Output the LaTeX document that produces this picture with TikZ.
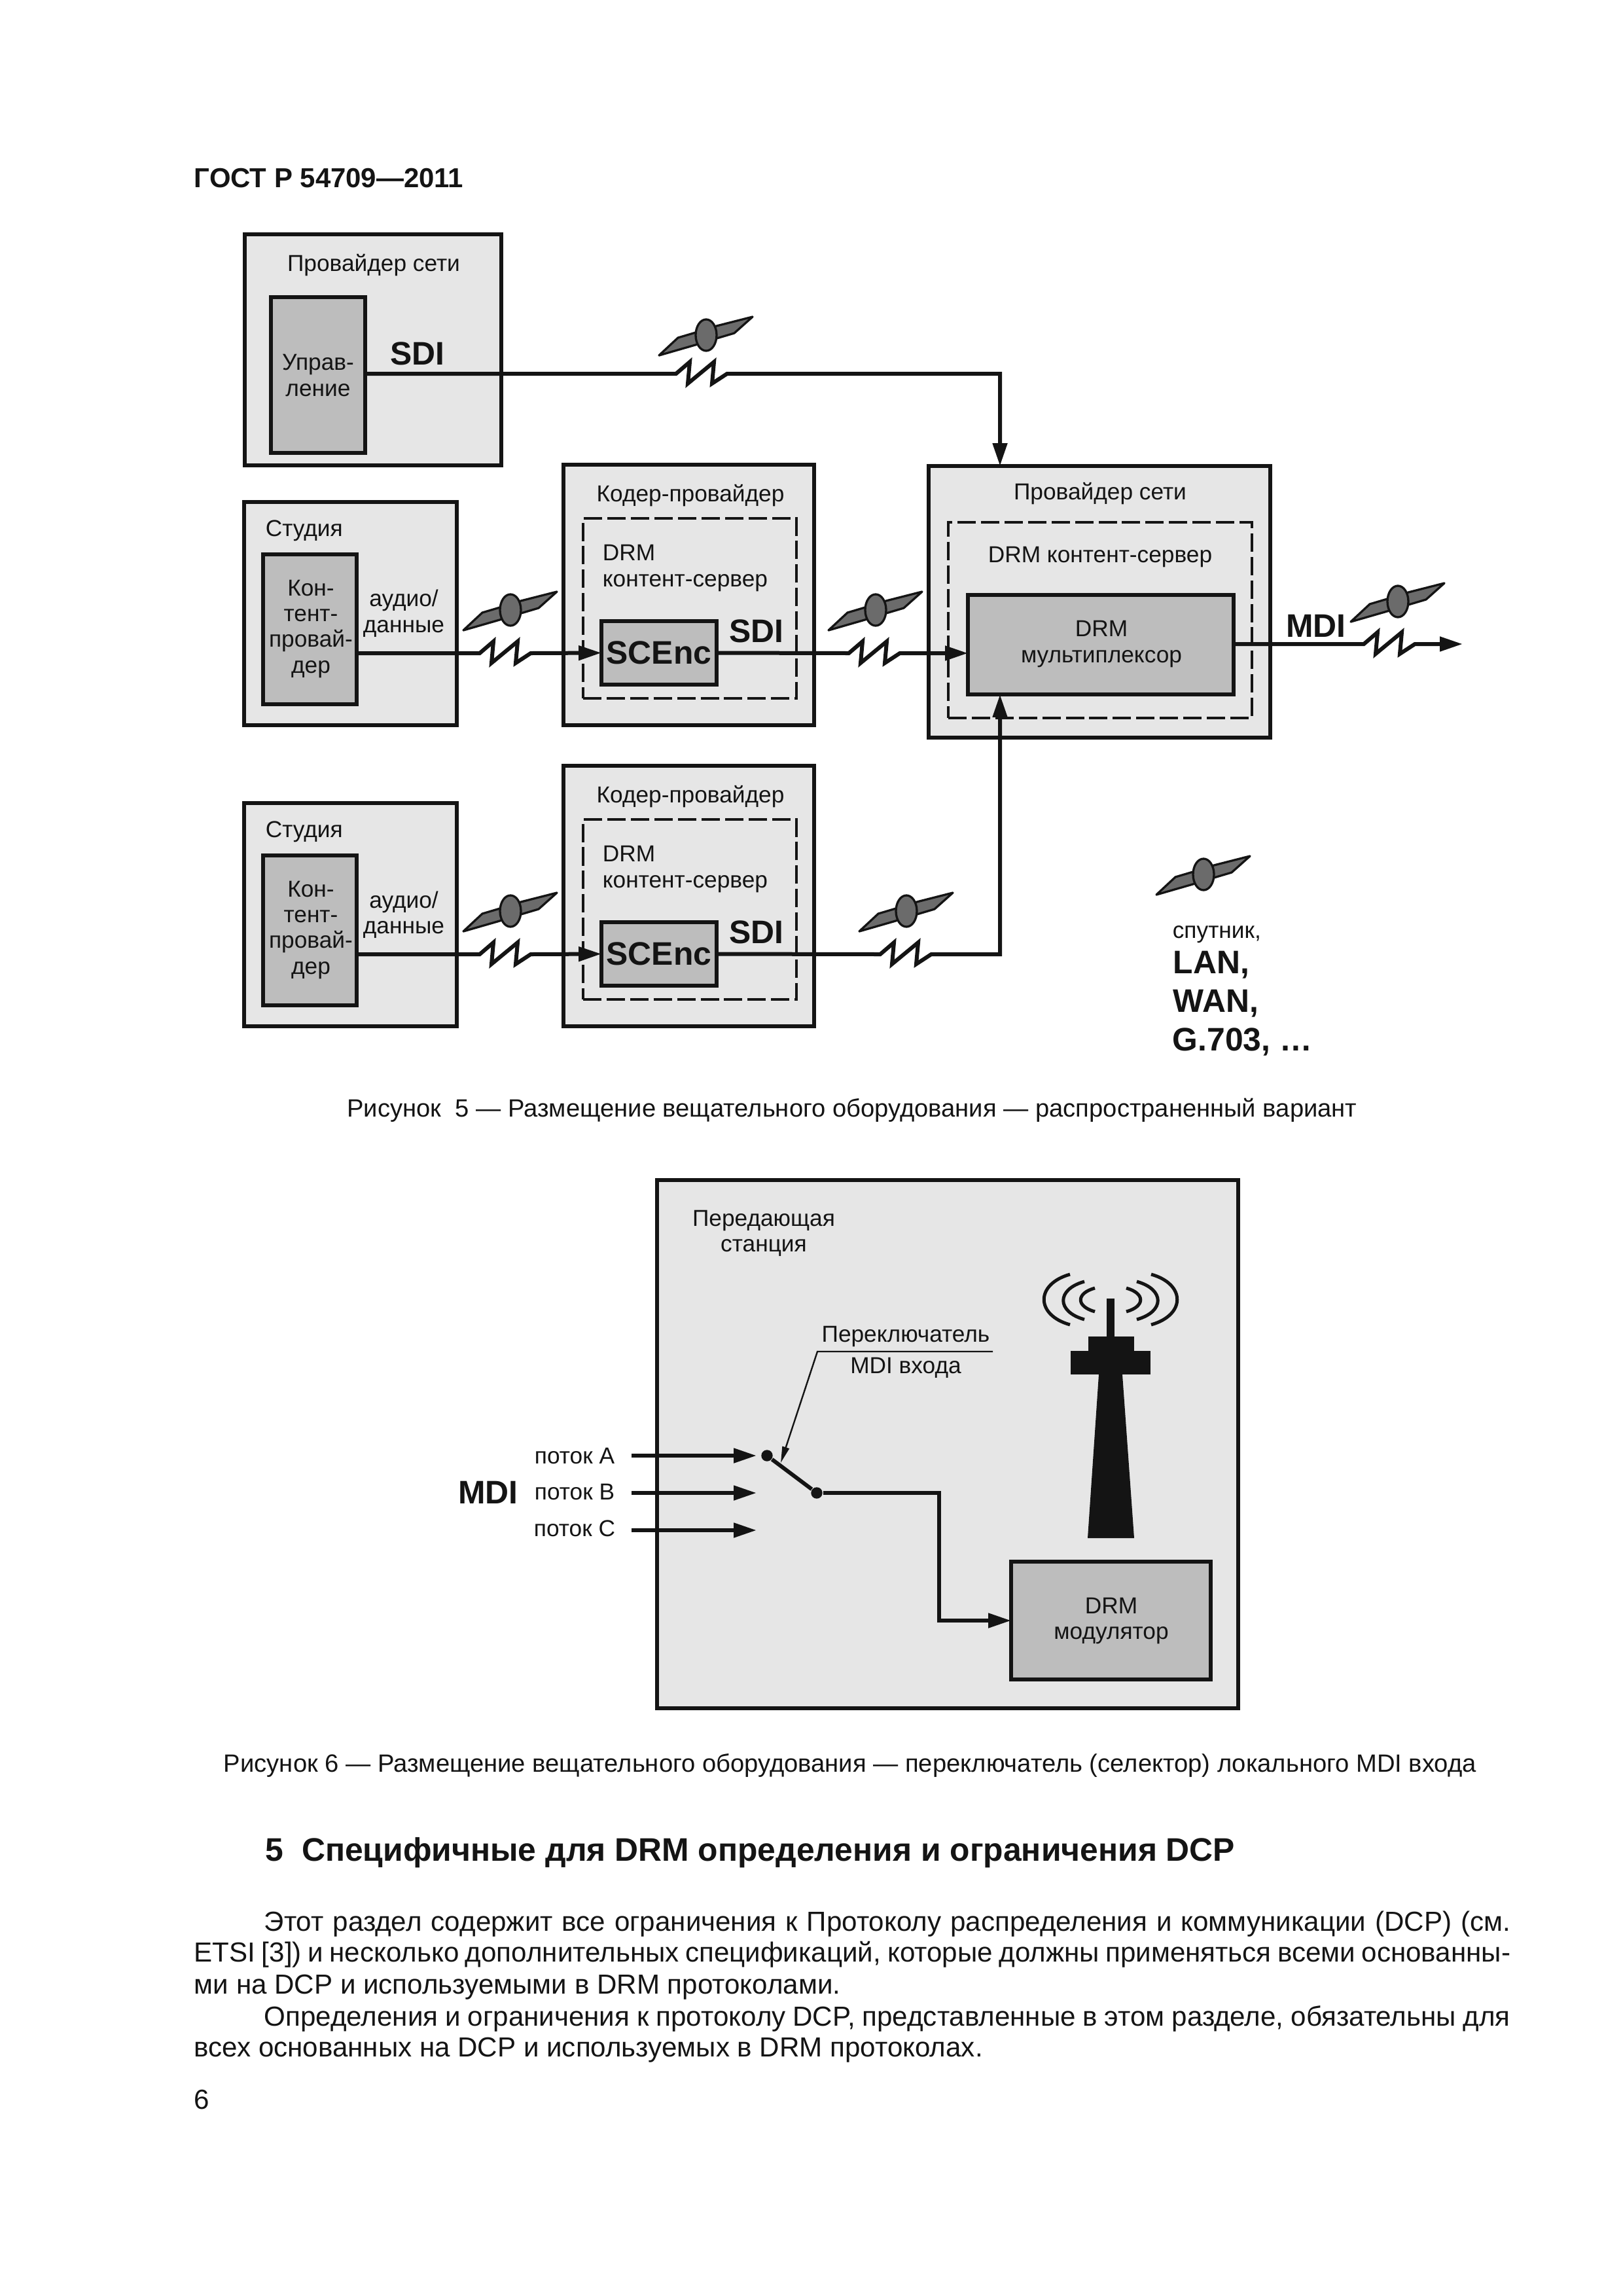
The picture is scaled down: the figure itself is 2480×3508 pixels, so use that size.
\documentclass[tikz,border=0pt]{standalone}
\usepackage{fontspec}
\setmainfont{Liberation Sans}
\usetikzlibrary{arrows.meta,calc}
\definecolor{ink}{HTML}{141414}
\definecolor{lightbox}{HTML}{E6E6E6}
\definecolor{midbox}{HTML}{BDBDBD}
\definecolor{satfill}{HTML}{6B6B6B}
\def\px{0.2409pt}
% args: name, y1, x1, x2, y2, style
\newcommand{\bx}[6]{\node[#6,minimum width={(#4-#3)*\px},minimum height={(#5-#2)*\px}] (#1) at ({(#3+#4)/2},{(#2+#5)/2}) {};}
\newcommand{\sat}[2]{\begin{scope}[shift={(#1,#2)}]
 \filldraw[satline] (-72,31) -- (-43,4) -- (-16,-4) -- (16,-14) -- (71,-28) -- (43,-3) -- (16,5) -- (-13,14) -- cycle;
 \filldraw[satline] (0,0) ellipse [x radius=16,y radius=24];
\end{scope}}
\tikzset{
 outerb/.style={draw=ink,fill=lightbox,line width=6*\px,inner sep=0,outer sep=0},
 innerb/.style={draw=ink,fill=midbox,line width=6*\px,inner sep=0,outer sep=0},
 dashb/.style={draw=ink,line width=3.2*\px,dash pattern=on 6.75pt off 1.9pt,inner sep=0,outer sep=0},
 satline/.style={draw=ink,fill=satfill,line width=3.3*\px,line join=round},
 wire/.style={draw=ink,line width=6*\px,miter limit=20},
 tip/.style={-{Triangle[length=8.4pt,width=5.2pt]}},
 zz/.style={insert path={-- ++(21,-18) -- ++(-3,33) -- ++(40,-33) -- ++(-3,33) -- ++(23,-15)}},
 lab/.style={text=ink,font=\fontsize{8.5}{9.4}\selectfont,align=center,inner sep=0,anchor=base},
 labl/.style={lab,align=left,anchor=base west},
 big/.style={text=ink,font=\fontsize{12}{13}\bfseries\selectfont,inner sep=0,anchor=base},
 bodytext/.style={text=ink,anchor=base west,inner sep=0,font=\fontsize{10.15}{12}\selectfont},
 capt/.style={text=ink,anchor=base,inner sep=0,font=\fontsize{9.2}{12}\selectfont},
}
\begin{document}
\begin{tikzpicture}[x=0.2409pt,y=-0.2409pt]
\useasboundingbox (0,0) rectangle (2480,3508);
\fill[white] (0,0) rectangle (2480,3508);
% page text
\node[big,anchor=base west,font=\fontsize{10.1}{13}\bfseries\selectfont] (hdr) at (296,286) {ГОСТ Р 54709—2011};
% Figure 5 boxes
\bx{provA}{358}{374}{766}{711}{outerb}
\bx{upr}{454}{414}{558}{692}{innerb}
\bx{stud1}{767}{373}{698}{1108}{outerb}
\bx{cont1}{847}{402}{545}{1076}{innerb}
\bx{cod1}{710}{861}{1244}{1108}{outerb}
\bx{dash1}{792}{891}{1217}{1067}{dashb}
\bx{enc1}{949}{919}{1095}{1046}{innerb}
\bx{stud2}{1227}{373}{698}{1568}{outerb}
\bx{cont2}{1307}{402}{545}{1536}{innerb}
\bx{cod2}{1170}{861}{1244}{1568}{outerb}
\bx{dash2}{1252}{891}{1217}{1527}{dashb}
\bx{enc2}{1409}{919}{1095}{1506}{innerb}
\bx{provB}{712}{1419}{1941}{1127}{outerb}
\bx{dash3}{798}{1449}{1913}{1097}{dashb}
\bx{mux}{909}{1479}{1885}{1061}{innerb}
% labels
\node[lab] (t1) at (571,414) {Провайдер сети};
\node[lab] (t2) at (486,605) {Управ-\\ление};
\node[big] (t3) at (638,557) {SDI};
\node[labl] (t4) at (405,819) {Студия};
\node[lab] (t5) at (475,1028) {Кон-\\тент-\\провай-\\дер};
\node[lab] (t6) at (617,966) {аудио/\\данные};
\node[lab] (t7) at (1055,766) {Кодер-провайдер};
\node[labl] (t8) at (920,896) {DRM\\контент-сервер};
\node[big] (t9) at (1156,981) {SDI};
\node[big,anchor=center] (t10) at (enc1) {SCEnc};
\node[labl] (t11) at (405,1279) {Студия};
\node[lab] (t12) at (475,1488) {Кон-\\тент-\\провай-\\дер};
\node[lab] (t13) at (617,1426) {аудио/\\данные};
\node[lab] (t14) at (1055,1226) {Кодер-провайдер};
\node[labl] (t15) at (920,1356) {DRM\\контент-сервер};
\node[big] (t16) at (1156,1441) {SDI};
\node[big,anchor=center] (t17) at (enc2) {SCEnc};
\node[lab] (t18) at (1681,763) {Провайдер сети};
\node[lab] (t19) at (1681,859) {DRM контент-сервер};
\node[lab] (t20) at (1683,1012) {DRM\\мультиплексор};
\node[big] (t21) at (2011,973) {MDI};
% connectors
\coordinate (z1) at (1033,571);
\coordinate (jTop) at (1528,712);
\draw[wire,tip] (upr.east |- z1) -- (z1) [zz] -| (jTop);
\coordinate (z2) at (733,998);
\draw[wire,tip] (cont1.east |- z2) -- (z2) [zz] -- (enc1.west);
\coordinate (z3) at (1297,998);
\draw[wire,tip] (enc1.east) -- (z3) [zz] -- (mux.west |- z3);
\coordinate (z4) at (2084,984);
\coordinate (mdiEnd) at (2235,984);
\draw[wire,tip] (mux.east |- z4) -- (z4) [zz] -- (mdiEnd);
\coordinate (z5) at (733,1458);
\draw[wire,tip] (cont2.east |- z5) -- (z5) [zz] -- (enc2.west);
\coordinate (z6) at (1345,1458);
\coordinate (jBot) at (1528,1061);
\draw[wire,tip] (enc2.east) -- (z6) [zz] -| (jBot);
% satellites
\sat{1079}{512}
\sat{780}{932}
\sat{1338}{932}
\sat{2136}{919}
\sat{780}{1392}
\sat{1385}{1392}
\sat{1839}{1336}
% legend
\node[labl] (l1) at (1791,1433) {спутник,};
\node[big,anchor=base west] (l2) at (1792,1487) {LAN,};
\node[big,anchor=base west] (l3) at (1792,1546) {WAN,};
\node[big,anchor=base west] (l4) at (1791,1605) {G.703, …};
\node[capt] (c5) at (1302,1706) {Рисунок\ \ 5 — Размещение вещательного оборудования — распространенный вариант};
% Figure 6
\bx{stn}{1803}{1004}{1892}{2610}{outerb}
\bx{mod}{2386}{1545}{1850}{2566}{innerb}
\node[lab] (s1) at (1167,1912) {Передающая\\станция};
\node[lab] (s2) at (1698,2504) {DRM\\модулятор};
% tower
\fill[ink] (1691,1984) rectangle (1703,2042);
\fill[ink] (1663,2042) rectangle (1733,2064);
\fill[ink] (1636,2064) rectangle (1758,2100);
\fill[ink] (1679,2100) -- (1715,2100) -- (1733,2350) -- (1662,2350) -- cycle;
\draw[ink,line width=5*\px] (1635,1947) .. controls (1582,1962) and (1582,2009) .. (1635,2024);
\draw[ink,line width=5*\px] (1657,1958) .. controls (1614,1970) and (1614,2004) .. (1657,2016);
\draw[ink,line width=5*\px] (1673,1968) .. controls (1644,1976) and (1644,1996) .. (1673,2004);
\draw[ink,line width=5*\px] (1759,1947) .. controls (1812,1962) and (1812,2009) .. (1759,2024);
\draw[ink,line width=5*\px] (1737,1958) .. controls (1780,1970) and (1780,2004) .. (1737,2016);
\draw[ink,line width=5*\px] (1721,1968) .. controls (1750,1976) and (1750,1996) .. (1721,2004);
% switch
\node[fill=ink,circle,inner sep=0,minimum size=4.2pt] (dotA) at (1172,2224) {};
\node[fill=ink,circle,inner sep=0,minimum size=4.2pt] (dotR) at (1248,2281) {};
\draw[wire] (dotA) -- (dotR);
\coordinate (bend) at (1435,2476);
\draw[wire,tip] (dotR) -| (bend) -- (mod.west |- bend);
\node[lab] (a1) at (878,2236) {поток А};
\node[lab] (a2) at (878,2291) {поток В};
\node[lab] (a3) at (878,2347) {поток С};
\coordinate (a1e) at (1156,2224);
\coordinate (a2e) at (1156,2281);
\coordinate (a3e) at (1156,2338);
\coordinate (a1s) at (965,2224);
\coordinate (a2s) at (965,2281);
\coordinate (a3s) at (965,2338);
\draw[wire,tip] (a1s) -- (a1e);
\draw[wire,tip] (a2s) -- (a2e);
\draw[wire,tip] (a3s) -- (a3e);
\node[big] (m6) at (746,2297) {MDI};
\node[lab] (sw1) at (1384,2050) {Переключатель};
\node[lab] (sw2) at (1384,2098) {MDI входа};
\coordinate (lf1) at (1517,2065);
\coordinate (lf2) at (1249,2065);
\coordinate (lf3) at (1193,2235);
\draw[draw=ink,line width=2.4*\px,-{Triangle[length=6pt,width=2.6pt]}] (lf1) -- (lf2) -- (lf3);
\node[capt] (c6) at (1299,2707) {Рисунок 6 — Размещение вещательного оборудования — переключатель (селектор) локального MDI входа};
% section text
\node[text=ink,anchor=base west,inner sep=0,font=\fontsize{12}{14}\bfseries\selectfont] (h5) at (405,2843) {5\ \ Специфичные для DRM определения и ограничения DCP};
\node[bodytext] (p1) at (403,2950) {\makebox[458.7pt][s]{Этот раздел содержит все ограничения к Протоколу распределения и коммуникации (DCP) (см.}};
\node[bodytext] (p2) at (296,2997) {\makebox[484.5pt][s]{ETSI [3]) и несколько дополнительных спецификаций, которые должны применяться всеми основанны-}};
\node[bodytext] (p3) at (296,3046) {ми на DCP и используемыми в DRM протоколами.};
\node[bodytext] (p4) at (403,3095) {\makebox[458.7pt][s]{Определения и ограничения к протоколу DCP, представленные в этом разделе, обязательны для}};
\node[bodytext] (p5) at (296,3142) {всех основанных на DCP и используемых в DRM протоколах.};
\node[bodytext] (pn) at (296,3222) {6};
\end{tikzpicture}
\end{document}
